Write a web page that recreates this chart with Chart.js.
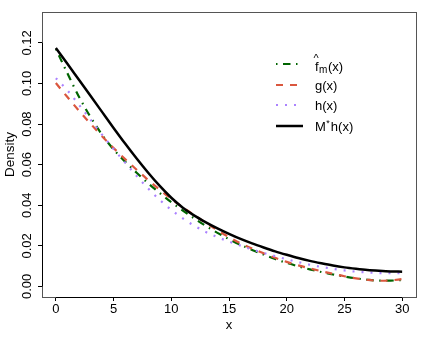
<!DOCTYPE html>
<html><head><meta charset="utf-8">
<script src="https://cdn.jsdelivr.net/npm/chart.js@4/dist/chart.umd.min.js"></script>
<style>html,body{margin:0;padding:0;background:#fff;}#wrap{width:425px;height:340px;position:relative;}</style>
</head><body><div id="wrap"><canvas id="c" width="425" height="340"></canvas></div>
<script>
const xValues = [0,1,2,3,4,5,6,7,8,9,10,11,12,13,14,15,16,17,18,19,20,21,22,23,24,25,26,27,28,29,30];
const fmValues = [0.1170,0.1050,0.0935,0.0835,0.0748,0.0675,0.0615,0.0560,0.0508,0.0460,0.0415,0.0374,0.0335,0.0298,0.0264,0.0233,0.0205,0.0180,0.0157,0.0135,0.0116,0.0099,0.0084,0.0071,0.0059,0.0049,0.0040,0.0033,0.0029,0.0029,0.0032];
const gValues = [0.1002,0.0933,0.0866,0.0802,0.0740,0.0682,0.0627,0.0575,0.0524,0.0476,0.0432,0.0390,0.0351,0.0313,0.0277,0.0243,0.0213,0.0187,0.0163,0.0141,0.0121,0.0104,0.0089,0.0075,0.0062,0.0050,0.0040,0.0032,0.0028,0.0030,0.0036];
const hValues = [0.1026,0.0966,0.0895,0.0822,0.0748,0.0677,0.0610,0.0544,0.0482,0.0426,0.0377,0.0335,0.0299,0.0268,0.0243,0.0221,0.0201,0.0182,0.0165,0.0149,0.0134,0.0120,0.0107,0.0096,0.0087,0.0079,0.0073,0.0069,0.0066,0.0065,0.0065];
const mhValues = [0.1175,0.1097,0.1018,0.0939,0.0860,0.0781,0.0704,0.0630,0.0560,0.0495,0.0437,0.0388,0.0349,0.0316,0.0286,0.0259,0.0234,0.0212,0.0192,0.0173,0.0156,0.0140,0.0126,0.0114,0.0103,0.0094,0.0087,0.0081,0.0077,0.0074,0.0073];
const xTicks = [0,5,10,15,20,25,30];
const yTicks = [0,0.02,0.04,0.06,0.08,0.10,0.12];
const xTitle = 'x';
const yTitle = 'Density';

const FONT = '"Liberation Sans", Arial, Helvetica, sans-serif';
const FS = 13;
Chart.defaults.font.family = FONT;
Chart.defaults.font.size = FS;
Chart.defaults.color = '#000';

const toPts = ys => xValues.map((x, i) => ({x: x, y: ys[i]}));

const styles = [
  {color: '#006400', dash: [1.5,5.5,7.5,5.5], width: 2.2},
  {color: '#DA573E', dash: [7,7], width: 2.2},
  {color: '#AB82FF', dash: [2,7], width: 2.2},
  {color: '#000000', dash: [], width: 2.5}
];

const series = [fmValues, gValues, hValues, mhValues];

const datasets = series.map((ys, i) => ({
  data: toPts(ys),
  borderColor: styles[i].color,
  borderDash: styles[i].dash,
  borderWidth: styles[i].width,
  borderCapStyle: 'butt',
  pointRadius: 0,
  fill: false,
  cubicInterpolationMode: 'monotone',
  order: 3 - i
}));

const framePlugin = {
  id: 'frame',
  afterDatasetsDraw(chart) {
    const {ctx, chartArea: a, scales} = chart;
    ctx.save();
    ctx.setLineDash([]);
    ctx.strokeStyle = '#555';
    ctx.lineWidth = 1;
    ctx.strokeRect(Math.round(a.left) + 0.5, Math.round(a.top) + 0.5, Math.round(a.right - a.left), Math.round(a.bottom - a.top));
    // axis lines spanning the ticks
    ctx.strokeStyle = '#000';
    const xs = scales.x, ys = scales.y;
    const by = Math.round(a.bottom) + 0.5;
    ctx.beginPath();
    ctx.moveTo(xs.getPixelForValue(xTicks[0]), by);
    ctx.lineTo(xs.getPixelForValue(xTicks[xTicks.length - 1]), by);
    const lx = Math.round(a.left) + 0.5;
    ctx.moveTo(lx, ys.getPixelForValue(yTicks[0]));
    ctx.lineTo(lx, ys.getPixelForValue(yTicks[yTicks.length - 1]));
    ctx.stroke();

    // legend
    const lx1 = 276, lx2 = 303, tx = 315;
    const rowsY = [64, 85, 105, 126];
    for (let i = 0; i < 4; i++) {
      ctx.beginPath();
      ctx.setLineDash(styles[i].dash);
      ctx.lineDashOffset = 0;
      ctx.strokeStyle = styles[i].color;
      ctx.lineWidth = styles[i].width;
      ctx.lineCap = 'butt';
      ctx.moveTo(lx1, rowsY[i]);
      ctx.lineTo(lx2, rowsY[i]);
      ctx.stroke();
    }
    ctx.setLineDash([]);
    ctx.fillStyle = '#000';
    ctx.textBaseline = 'alphabetic';
    ctx.textAlign = 'left';
    // row 1: f-hat sub m (x)
    let b = rowsY[0] + 6.5;
    ctx.font = FS + 'px ' + FONT;
    ctx.fillText('f', tx, b);
    let w = ctx.measureText('f').width;
    ctx.font = '11px ' + FONT;
    ctx.fillText('^', tx - 1.5, b - 8.5);
    ctx.font = '10px ' + FONT;
    ctx.fillText('m', tx + w + 0.5, b + 2.5);
    let wm = ctx.measureText('m').width;
    ctx.font = FS + 'px ' + FONT;
    ctx.fillText('(x)', tx + w + wm + 1, b);
    // row 2, 3
    ctx.fillText('g(x)', tx, rowsY[1] + 4.5);
    ctx.fillText('h(x)', tx, rowsY[2] + 4.5);
    // row 4
    b = rowsY[3] + 5;
    ctx.fillText('M', tx, b);
    w = ctx.measureText('M').width;
    ctx.font = '9px ' + FONT;
    ctx.fillText('*', tx + w + 0.5, b - 5);
    const ws = ctx.measureText('*').width;
    ctx.font = FS + 'px ' + FONT;
    ctx.fillText('h(x)', tx + w + ws + 1.5, b);
    ctx.restore();
  }
};

new Chart(document.getElementById('c'), {
  type: 'line',
  data: {datasets: datasets},
  plugins: [framePlugin],
  options: {
    responsive: false,
    animation: false,
    devicePixelRatio: 1,
    layout: {padding: {left: 0, right: 9, top: 12, bottom: 0}},
    plugins: {legend: {display: false}, tooltip: {enabled: false}},
    scales: {
      x: {
        type: 'linear',
        min: -1.2, max: 31.2,
        afterBuildTicks: s => { s.ticks = xTicks.map(v => ({value: v})); },
        afterFit: s => { s.height = 43; },
        ticks: {autoSkip: false, maxRotation: 0, padding: 1, callback: v => String(v), color: '#000', font: {size: FS}},
        grid: {display: true, drawOnChartArea: false, drawTicks: true, tickLength: 4, color: '#000', tickColor: '#000', tickWidth: 1},
        border: {display: false},
        title: {display: true, text: xTitle, color: '#000', font: {size: FS}, padding: {top: 0, bottom: 7}}
      },
      y: {
        type: 'linear',
        min: -0.0052, max: 0.1352,
        afterBuildTicks: s => { s.ticks = yTicks.map(v => ({value: v})); },
        afterFit: s => { s.width = 42; },
        ticks: {autoSkip: false, minRotation: 90, maxRotation: 90, crossAlign: 'center', padding: -2, callback: v => v.toFixed(2), color: '#000', font: {size: FS}},
        grid: {display: true, drawOnChartArea: false, drawTicks: true, tickLength: 4, color: '#000', tickColor: '#000', tickWidth: 1},
        border: {display: false},
        title: {display: true, text: yTitle, color: '#000', font: {size: 13.5}, padding: {top: 2, bottom: 0}}
      }
    }
  }
});
</script>
</body></html>
